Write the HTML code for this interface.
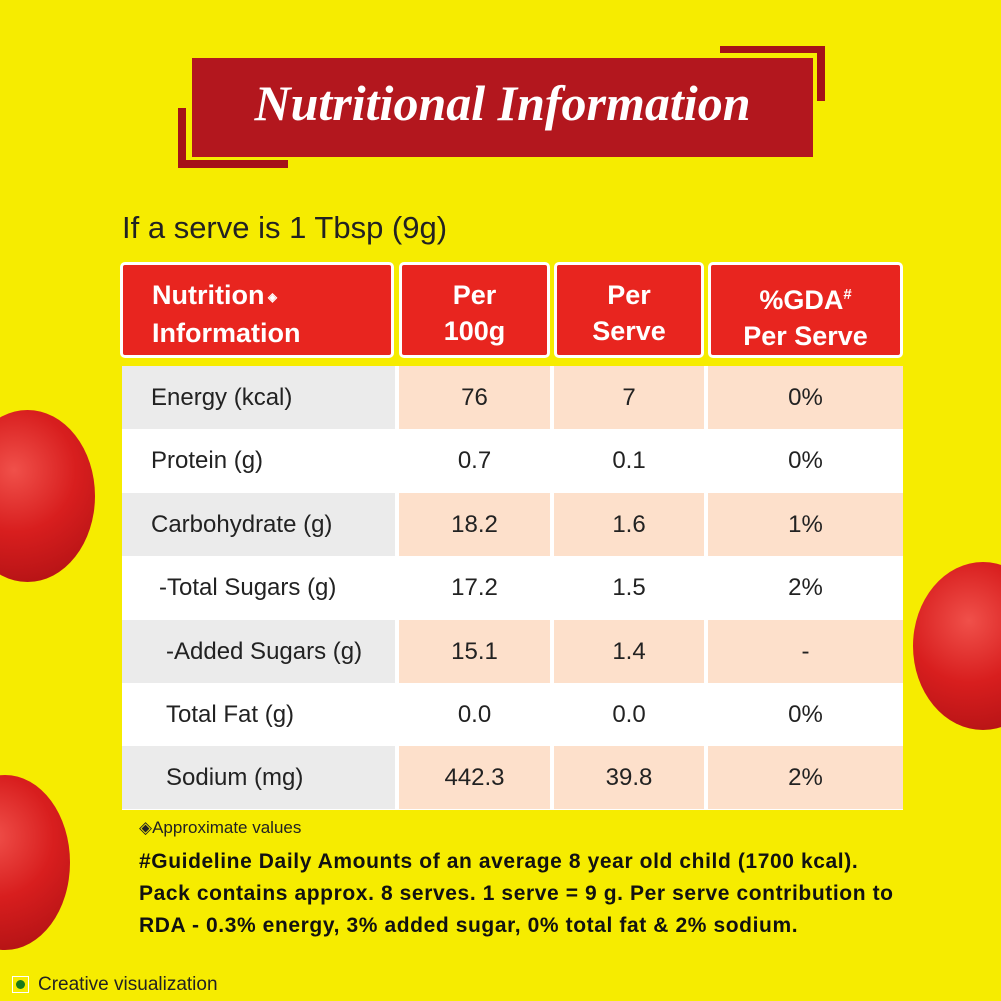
<!DOCTYPE html>
<html><head><meta charset="utf-8"><style>
body{margin:0;width:1001px;height:1001px;overflow:hidden;background:#f6ec00;font-family:"Liberation Sans",sans-serif;position:relative}
.abs{position:absolute}
.tom{position:absolute;border-radius:50%;background:radial-gradient(circle at 40% 35%,#f0504a 0%,#d81e1e 45%,#a80f12 100%)}
.h{position:absolute;top:262px;height:96px;background:#e8251f;border:3px solid #fff;border-radius:5px;box-sizing:border-box;color:#fff;font-weight:bold;font-size:27px;line-height:36px;text-align:center;padding-top:12px}
.c{position:absolute;height:63px;box-sizing:border-box;font-size:24px;color:#222;line-height:63px;text-align:center}
</style></head><body>
<div class="tom" style="left:-40px;top:410px;width:135px;height:172px"></div>
<div class="tom" style="left:913px;top:562px;width:140px;height:168px"></div>
<div class="tom" style="left:-60px;top:775px;width:130px;height:175px"></div>
<div class="abs" style="left:178px;top:108px;width:8px;height:58px;background:#a51218"></div>
<div class="abs" style="left:178px;top:160px;width:110px;height:8px;background:#a51218"></div>
<div class="abs" style="left:720px;top:46px;width:105px;height:7px;background:#a51218"></div>
<div class="abs" style="left:817px;top:46px;width:8px;height:55px;background:#a51218"></div>
<div class="abs" style="left:192px;top:58px;width:621px;height:99px;background:#b3171e"></div>
<div class="abs" style="left:192px;top:74px;width:621px;text-align:center;color:#fff;font-family:'Liberation Serif',serif;font-style:italic;font-weight:bold;font-size:50px">Nutritional Information</div>
<div class="abs" style="left:122px;top:210px;font-size:31px;color:#222">If a serve is 1 Tbsp (9g)</div>
<div class="h" style="left:120px;width:274px;text-align:left;padding-left:29px">Nutrition<span style="font-size:12px;vertical-align:middle"> ◈</span><br>Information</div>
<div class="h" style="left:399px;width:151px">Per<br>100g</div>
<div class="h" style="left:554px;width:150px">Per<br>Serve</div>
<div class="h" style="left:708px;width:195px">%GDA<sup style="font-size:15px">#</sup><br>Per Serve</div>
<div class="abs" style="left:122px;top:366px;width:781px;height:444px;background:#fff"></div>
<div id="rows"></div>
<script>
var d=[["Energy (kcal)","76","7","0%",0],["Protein (g)","0.7","0.1","0%",0],["Carbohydrate (g)","18.2","1.6","1%",0],["-Total Sugars (g)","17.2","1.5","2%",8],["-Added Sugars (g)","15.1","1.4","-",15],["Total Fat (g)","0.0","0.0","0%",15],["Sodium (mg)","442.3","39.8","2%",15]];
var h="";
d.forEach(function(r,i){var y=366+i*63.4,s=i%2==0;
h+='<div class="c" style="left:122px;top:'+y+'px;width:273px;text-align:left;padding-left:'+(29+r[4])+'px;background:'+(s?'#ebebeb':'#fff')+'">'+r[0]+'</div>';
h+='<div class="c" style="left:399px;top:'+y+'px;width:151px;background:'+(s?'#fde0cb':'#fff')+'">'+r[1]+'</div>';
h+='<div class="c" style="left:554px;top:'+y+'px;width:150px;background:'+(s?'#fde0cb':'#fff')+'">'+r[2]+'</div>';
h+='<div class="c" style="left:708px;top:'+y+'px;width:195px;background:'+(s?'#fde0cb':'#fff')+'">'+r[3]+'</div>';});
document.getElementById("rows").innerHTML=h;
</script>
<div class="abs" style="left:139px;top:818px;font-size:17px;color:#222">◈Approximate values</div>
<div class="abs" style="left:139px;top:846px;font-size:21px;letter-spacing:0.6px;font-weight:bold;color:#111;line-height:32px;white-space:nowrap">#Guideline Daily Amounts of an average 8 year old child (1700 kcal).<br>Pack contains approx. 8 serves. 1 serve = 9 g. Per serve contribution to<br>RDA - 0.3% energy, 3% added sugar, 0% total fat &amp; 2% sodium.</div>
<div class="abs" style="left:12px;top:976px;width:15px;height:15px;border:1px solid #fff;background:#f6ec00"><div style="margin:3px;width:9px;height:9px;border-radius:50%;background:#1a7a1a"></div></div>
<div class="abs" style="left:38px;top:974px;font-size:19px;color:#222">Creative visualization</div>
</body></html>
